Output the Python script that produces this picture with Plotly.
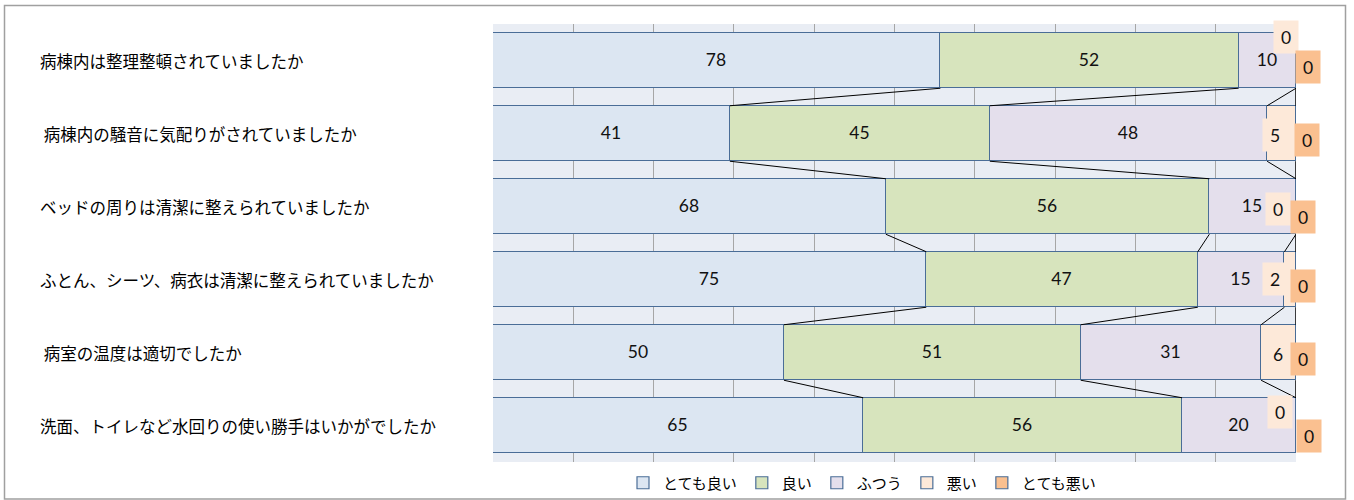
import numpy as np
import plotly.graph_objects as go

# ---------------- data ----------------
categories = [
    "病棟内は整理整頓されていましたか",
    " 病棟内の騒音に気配りがされていましたか",
    "ベッドの周りは清潔に整えられていましたか",
    "ふとん、シーツ、病衣は清潔に整えられていましたか",
    " 病室の温度は適切でしたか",
    "洗面、トイレなど水回りの使い勝手はいかがでしたか",
]
series_names = ["とても良い", "良い", "ふつう", "悪い", "とても悪い"]
very_good = [78, 41, 68, 75, 50, 65]
good = [52, 45, 56, 47, 51, 56]
neutral = [10, 48, 15, 15, 31, 20]
bad = [0, 5, 0, 2, 6, 0]
very_bad = [0, 0, 0, 0, 0, 0]

# ---------------- style ----------------
colors = ["#DCE6F2", "#D7E4BD", "#E4DFEC", "#FDE9D9", "#FAC090"]
edge = "#4A6D97"
W, H = 1354, 500
L, R, T, B = 493, 58, 24, 38
PW, PH = W - L - R, H - T - B
BAR_W = 0.76

# label offsets (px) for the manually placed small labels: (dx, dy) from right edge / row centre
bad_off = [(-10, -23.5), (-21, 1.5), (-18, 2), (-21, -0.5), (-18, 1.5), (-16, -13.5)]
vbad_off = [(12, 6.5), (11, 6.5), (7, 10.5), (7, 6.5), (7, 6.5), (13, 10.5)]

all_series = [very_good, good, neutral, bad, very_bad]
arr = np.array(all_series, dtype=float)
totals = arr.sum(axis=0)
cum = np.cumsum(arr, axis=0) / totals * 100.0

ys = list(range(len(categories)))

fig = go.Figure()
for k, (name, vals) in enumerate(zip(series_names, all_series)):
    show_text = k < 3
    fig.add_trace(go.Bar(
        name=name, y=ys, x=vals, orientation="h", width=BAR_W,
        marker=dict(color=colors[k], line=dict(color=edge, width=1.2)),
        text=[str(v) for v in vals] if show_text else None,
        textposition="inside" if show_text else "none",
        insidetextanchor="middle", textangle=0, constraintext="none",
        textfont=dict(family="Lato", size=17.5, color="#111111"),
        hoverinfo="x+name",
    ))

# series lines between adjacent bars
for k in range(len(all_series)):
    xs, yy = [], []
    for i in range(len(categories) - 1):
        xs += [cum[k][i], cum[k][i + 1], None]
        yy += [i + BAR_W / 2, i + 1 - BAR_W / 2, None]
    fig.add_trace(go.Scatter(x=xs, y=yy, mode="lines", showlegend=False,
                             line=dict(color="black", width=1), hoverinfo="skip",
                             cliponaxis=False))

annotations = []
# category labels
for i, c in enumerate(categories):
    annotations.append(dict(
        text=c.replace(" ", "\u00a0"), xref="paper", yref="y",
        x=(38 - L) / PW, y=i, xanchor="left", yanchor="middle", showarrow=False,
        font=dict(family="Noto Sans CJK JP", size=16.5, color="#000000"),
    ))
# small value labels with fills
for k, offs in ((3, bad_off), (4, vbad_off)):
    for i in range(len(categories)):
        dx, dy = offs[i]
        annotations.append(dict(
            text=str(all_series[k][i]), xref="x", yref="y",
            x=cum[k][i], y=i, xanchor="center", yanchor="middle",
            xshift=dx, yshift=-dy, showarrow=False,
            width=22, height=30, bgcolor=colors[k],
            font=dict(family="Lato", size=17.5, color="#111111"),
        ))

fig.update_layout(
    width=W, height=H, autosize=False,
    margin=dict(l=L, r=R, t=T, b=B, pad=0, autoexpand=False),
    barmode="stack", barnorm="percent", bargap=0,
    plot_bgcolor="#E9EDF4", paper_bgcolor="white",
    xaxis=dict(range=[0, 100], dtick=10, showticklabels=False, showgrid=True,
               gridcolor="#A6A6A6", gridwidth=1, zeroline=False, showline=False,
               fixedrange=True),
    yaxis=dict(range=[len(categories) - 0.5, -0.5], showticklabels=False,
               showgrid=False, zeroline=False, showline=False),
    legend=dict(orientation="h", xref="container", x=862 / W, xanchor="center",
                yref="container", y=1 - 483 / H, yanchor="middle",
                traceorder="normal", itemwidth=30,
                font=dict(family="Noto Sans CJK JP", size=15, color="#000000"),
                bgcolor="rgba(0,0,0,0)"),
    annotations=annotations,
    shapes=[dict(type="rect", xref="paper", yref="paper",
                 x0=(4.5 - L) / PW, x1=(1345.5 - L) / PW,
                 y0=-(499 - (T + PH)) / PH, y1=1 + (T - 5.5) / PH,
                 line=dict(color="#A0A0A0", width=1.5), layer="below")],
    showlegend=True,
)

fig.write_html("out.html", config={"displayModeBar": False},
               post_script="document.body.style.margin='0';document.body.style.overflow='hidden';")
